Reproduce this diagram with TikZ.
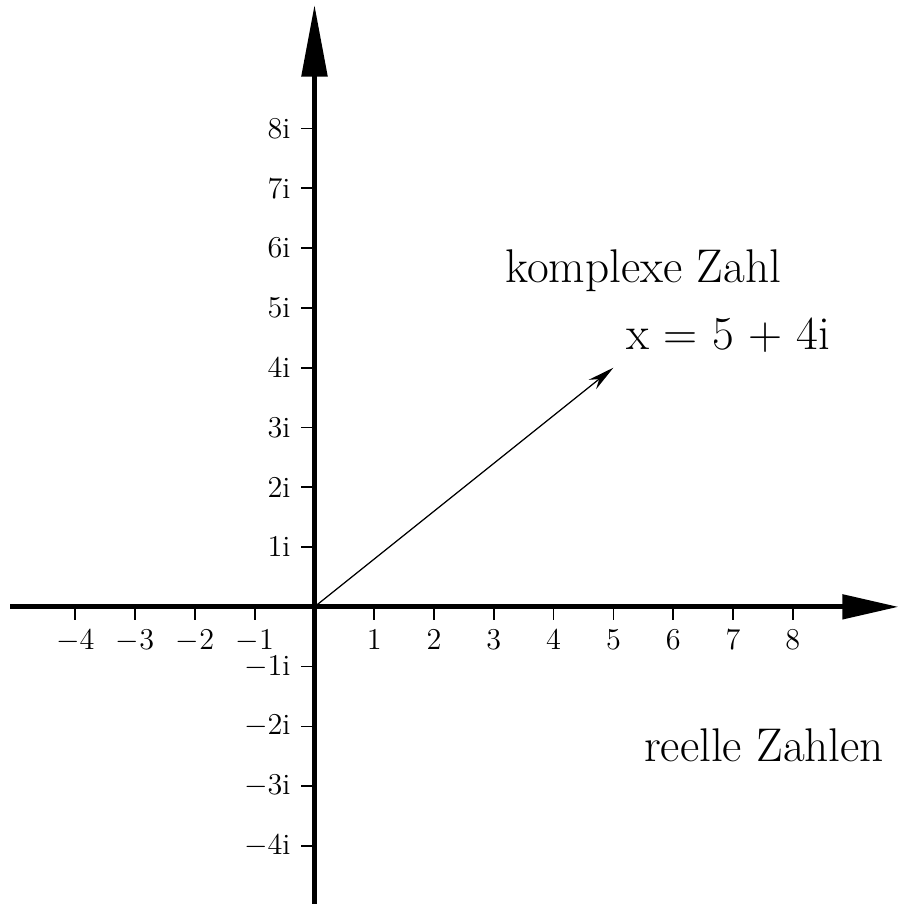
\documentclass[tikz,border=0pt]{standalone}
\usetikzlibrary{arrows.meta}
\tikzset{
  axis/.style={line width=2.4pt},
  tickmark/.style={line width=0.8pt},
  ticklabel/.style={font=\fontsize{14}{17}\selectfont},
  biglabel/.style={font=\fontsize{22.5}{26}\selectfont}
}
\begin{document}
\begin{tikzpicture}[line join=round, >=Stealth]
			\useasboundingbox (-5.26,-4.97) rectangle (9.77,10.15);
			\coordinate (o) at (0,0);
			\coordinate (xa) at (-5.09,0);
			\coordinate (xb) at (9.77,0);
			\coordinate (ya) at (0,-4.97);
			\coordinate (yb) at (0,10.07);
			\coordinate (z) at (5,4);
			\draw[axis,-{Triangle[length=0.94cm,width=0.4cm]}] (xa)--(xb);
			\draw[axis,-{Triangle[length=1.2cm,width=0.42cm]}] (ya)--(yb);
			\foreach \x in {-4,...,-1,1,2,...,8}\draw[tickmark,shift={(\x,0)}] (0,0) -- (0,-0.22) node[below, inner sep=4.5pt, ticklabel] (re\x) {$\x$};
			\foreach \y in {-4,...,-1,1,2,...,8}\draw[tickmark,shift={(0,\y)}] (0,0) -- (-0.23,0) node[left, inner sep=4.5pt, ticklabel] (im\y) {$\y$i};
			\draw[line width=0.6pt,-{Stealth[length=0.45cm,width=0.2cm]}] (o)--(z);
			\node[biglabel] (kz) at (5.5,5.63) {komplexe Zahl};
			\node[biglabel] (xv) at (6.92,4.55) {x = 5 + 4i};
			\node[biglabel] (rz) at (7.52,-2.31) {reelle Zahlen};
		\end{tikzpicture}
\end{document}
